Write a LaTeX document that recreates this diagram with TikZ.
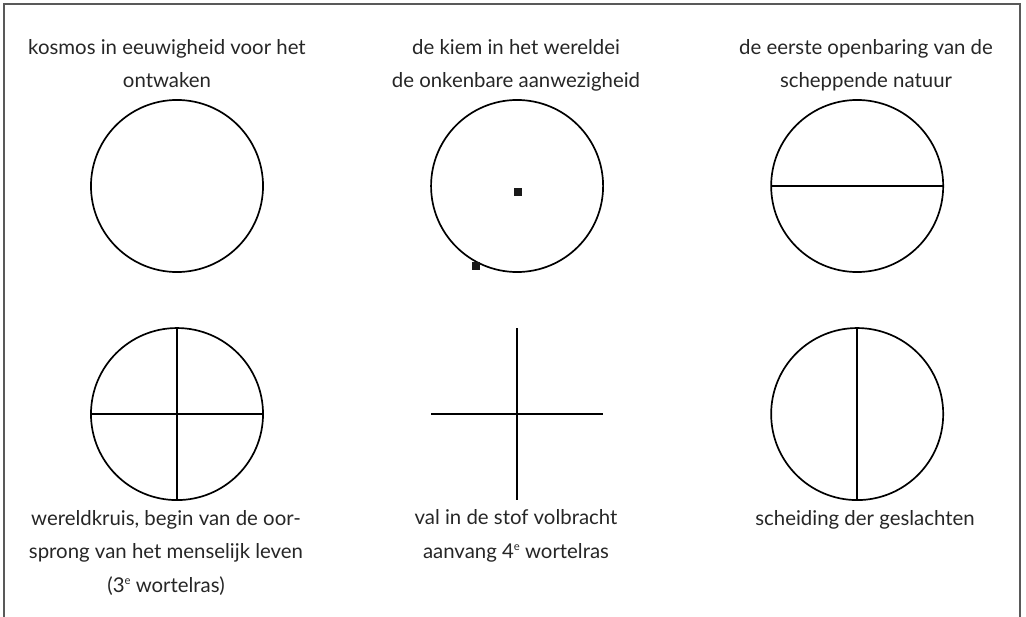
\documentclass[tikz,border=0pt]{standalone}
\usepackage{fontspec}
\setmainfont{Lato}
\usetikzlibrary{positioning}
\newcommand{\supe}{\raisebox{0.75ex}{\fontsize{8}{8}\selectfont e}}

\begin{document}
\begin{tikzpicture}[x=0.025cm, y=-0.025cm,
    lbl/.style={anchor=base, align=center, inner sep=0pt, text=black!85, font=\fontsize{14.5}{23.5}\selectfont},
    sign/.style={shape=circle, outer sep=0pt, inner sep=0pt, minimum size=4.3cm},
    speck/.style={fill=black!90, inner sep=0pt, minimum size=0.19cm}]
    \useasboundingbox (0,0) rectangle (1026,617);
    \draw[black!65, line width=0.8pt] (4,617) -- (4,4) -- (1020,4) -- (1020,617);
    \node[draw, line width=1.2pt, sign] (c1) at (177,186) {};
    \node[draw, line width=1.2pt, sign] (c2) [right= 4.2cm of c1] {};
    \node[draw, line width=1.2pt, sign] (c3) [right= 4.2cm of c2] {};
    \node[draw, line width=1.2pt, sign] (c4) [below= 1.4cm of c1] {};
    \node[sign] (c5) [below= 1.4cm of c2] {};
    \node[draw, line width=1.2pt, sign] (c6) [below= 1.4cm of c3] {};
    \node[speck] (d1) at (518,192) {};
    \node[speck] (d2) at (476,266) {};
    \draw[line width=1.2pt] (c3.west) -- (c3.east) (c4.west) -- (c4.east) (c4.north) -- (c4.south);
    \draw[line width=1.2pt] (c5.west) -- (c5.east) (c5.north) -- (c5.south) (c6.north) -- (c6.south);
    % labels sit on the baseline of their last line
    \node[lbl] (t1) at (167,88) {kosmos in eeuwigheid voor het\\ontwaken};
    \node[lbl] (t2) at (516,88) {de kiem in het wereldei\\de onkenbare aanwezigheid};
    \node[lbl] (t3) at (866,88) {de eerste openbaring van de\\scheppende natuur};
    \node[lbl] (t4) at (166,592) {wereldkruis, begin van de oor-\\sprong van het menselijk leven\\(3\supe{} wortelras)};
    \node[lbl] (t5) at (516,558) {val in de stof volbracht\\aanvang 4\supe{} wortelras};
    \node[lbl] (t6) at (865,525) {scheiding der geslachten};
\end{tikzpicture}
\end{document}
